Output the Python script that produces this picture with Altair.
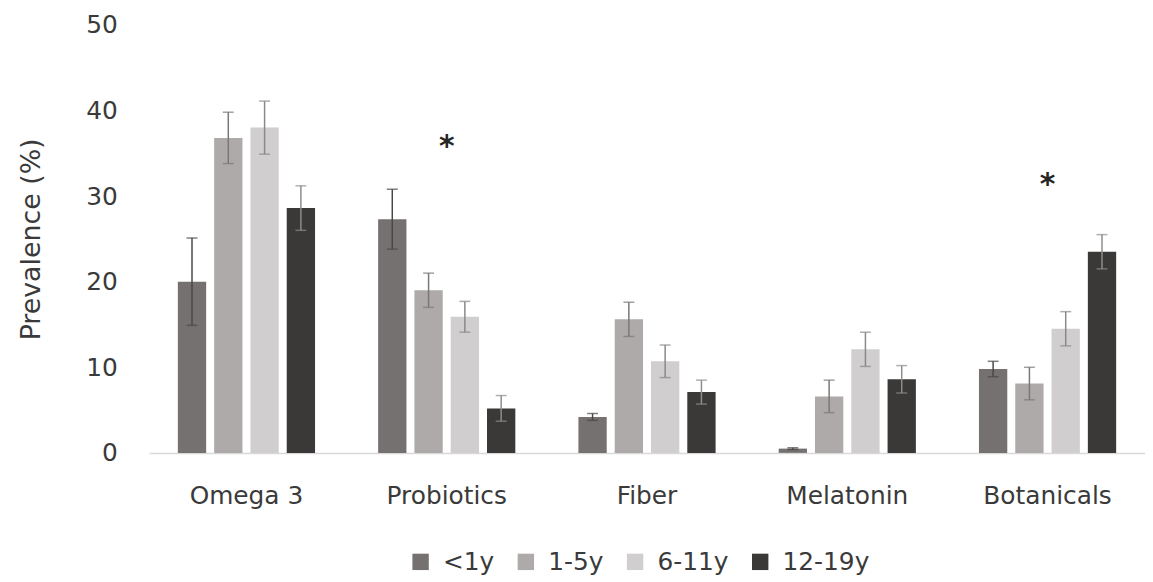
import altair as alt
import pandas as pd

categories = ["Omega 3", "Probiotics", "Fiber", "Melatonin", "Botanicals"]
groups = ["<1y", "1-5y", "6-11y", "12-19y"]
colors = ["#767171", "#AEAAAA", "#D0CECE", "#3B3838"]
err_colors = ["#4a4747", "#7a7777", "#8a8888", "#8f8c8c"]

values = {
    "<1y":    [20.0, 27.3, 4.2, 0.5, 9.8],
    "1-5y":   [36.8, 19.0, 15.6, 6.6, 8.1],
    "6-11y":  [38.0, 15.9, 10.7, 12.1, 14.5],
    "12-19y": [28.6, 5.2, 7.1, 8.6, 23.5],
}
errors = {
    "<1y":    [5.1, 3.5, 0.4, 0.1, 0.9],
    "1-5y":   [3.0, 2.0, 2.0, 1.9, 1.9],
    "6-11y":  [3.1, 1.8, 1.9, 2.0, 2.0],
    "12-19y": [2.6, 1.5, 1.4, 1.6, 2.0],
}
star_categories = ["Probiotics", "Botanicals"]
star_values = [36.2, 31.7]

rows = []
for g in groups:
    for c, v, e in zip(categories, values[g], errors[g]):
        rows.append({"category": c, "group": g, "value": v, "lo": v - e, "hi": v + e})
df = pd.DataFrame(rows)
stars = pd.DataFrame({"category": star_categories, "value": star_values, "label": ["*", "*"]})

FONT = "DejaVu Sans"
TXT = "#3a3a3a"

x = alt.X("category:N", sort=categories, title=None,
          scale=alt.Scale(paddingInner=0.315, paddingOuter=0.144),
          axis=alt.Axis(labelAngle=0, ticks=False, tickSize=0, labelPadding=31,
                        labelFontSize=25, labelFont=FONT, labelColor=TXT,
                        domainColor="#D9D9D9", domainWidth=1.5))
xoff = alt.XOffset("group:N", sort=groups,
                   scale=alt.Scale(paddingInner=0.22, paddingOuter=0))
yscale = alt.Scale(domain=[0, 50])

bars = alt.Chart(df).mark_bar().encode(
    x=x,
    xOffset=xoff,
    y=alt.Y("value:Q", scale=yscale, title="Prevalence (%)",
            axis=alt.Axis(values=[0, 10, 20, 30, 40, 50], grid=False, domain=False,
                          ticks=False, tickSize=0, labelPadding=32,
                          labelFontSize=25, labelFont=FONT, labelColor=TXT,
                          titleFontSize=27, titleFont=FONT, titleColor=TXT,
                          titleFontWeight="normal", titlePadding=40)),
    color=alt.Color("group:N", sort=groups,
                    scale=alt.Scale(domain=groups, range=colors),
                    legend=alt.Legend(title=None, orient="none", direction="horizontal",
                                      legendX=261, legendY=528,
                                      symbolType="square", symbolSize=272,
                                      symbolStrokeWidth=0, labelFontSize=25,
                                      labelFont=FONT, labelColor=TXT,
                                      labelOffset=10, columnPadding=19)),
)

errc = alt.Color("group:N", sort=groups,
                 scale=alt.Scale(domain=groups, range=err_colors), legend=None)

whisk = alt.Chart(df).mark_rule(strokeWidth=1.5).encode(
    x=x, xOffset=xoff,
    y=alt.Y("lo:Q", scale=yscale), y2="hi:Q",
    color=errc,
)
cap_hi = alt.Chart(df).mark_tick(size=11, thickness=1.5).encode(
    x=x, xOffset=xoff, y=alt.Y("hi:Q", scale=yscale), color=errc,
)
cap_lo = alt.Chart(df).mark_tick(size=11, thickness=1.5).encode(
    x=x, xOffset=xoff, y=alt.Y("lo:Q", scale=yscale), color=errc,
)

star = alt.Chart(stars).mark_text(fontSize=30, font=FONT, color="#262626",
                                  fontWeight="bold", baseline="middle", dy=4).encode(
    x=alt.X("category:N", sort=categories),
    y=alt.Y("value:Q", scale=yscale),
    text="label:N",
)

chart = alt.layer(bars, whisk, cap_hi, cap_lo, star).resolve_scale(
    color="independent"
).properties(
    width=1003, height=431,
    padding={"left": 10, "top": 3, "right": 0, "bottom": 5},
    background="white",
).configure_view(strokeWidth=0, stroke="transparent")

chart.save("out.html", embed_options={"renderer": "svg", "actions": False})
